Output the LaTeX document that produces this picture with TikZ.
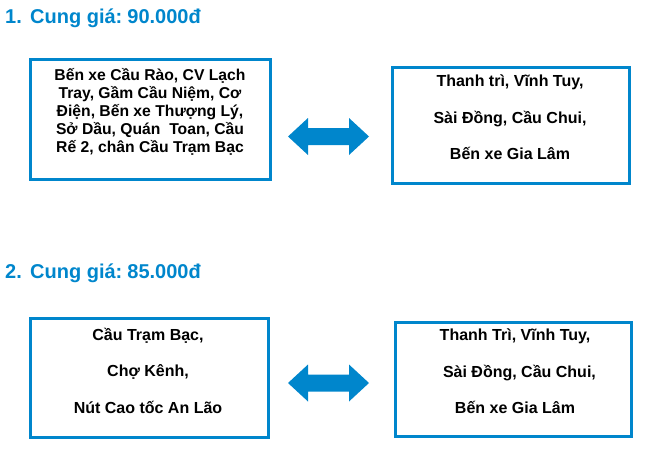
\documentclass[tikz,border=0pt]{standalone}
\usepackage{fontspec}
\setmainfont{Liberation Sans}
\definecolor{cblue}{RGB}{0,134,204}
\usetikzlibrary{calc}
\tikzset{
  box/.style={draw=cblue, line width=3pt, rectangle, inner sep=0pt},
  boxtext/.style={font=\bfseries\fontsize{15.7}{18}\selectfont, align=center, text=black, inner sep=0pt},
  wide/.style={font=\bfseries\fontsize{16}{36.5}\selectfont, align=center, text=black, inner sep=0pt},
  title/.style={font=\bfseries\fontsize{20}{24}\selectfont, text=cblue, anchor=base west, inner sep=0pt}
}
\newcommand{\blockarrow}[1]{%
  \fill[cblue] ($(#1)+(-40.5,0)$) -- ++(20,-18.5) -- ++(0,10) -- ++(41,0) -- ++(0,-10) -- ++(20,18.5)
    -- ++(-20,18.5) -- ++(0,-10) -- ++(-41,0) -- ++(0,10) -- cycle;}
\begin{document}
\begin{tikzpicture}[x=1pt,y=-1pt]
\useasboundingbox (0,0) rectangle (650,450);
% titles
\node[title] (n1) at (5,23) {1.};
\node[title] (t1) at (30,23) {Cung giá:\hspace{0.25em}90.000đ};
\node[title] (n2) at (5,278) {2.};
\node[title] (t2) at (30,278) {Cung giá:\hspace{0.25em}85.000đ};
% boxes
\node[box, minimum width=240pt, minimum height=120pt] (b1) at (150,119) {};
\node[box, minimum width=237pt, minimum height=116pt] (b2) at (510.5,125) {};
\node[box, minimum width=238pt, minimum height=119pt] (b3) at (149,377.5) {};
\node[box, minimum width=236pt, minimum height=114pt] (b4) at (513,379) {};
% texts
\node[boxtext] (x1) at (150,112) {Bến xe Cầu Rào, CV Lạch\\Tray, Gầm Cầu Niệm, Cơ\\Điện, Bến xe Thượng Lý,\\Sở Dầu, Quán\ \ Toan, Cầu\\Rế 2, chân Cầu Trạm Bạc};
\node[wide] (x2) at (510,117.5) {Thanh trì, Vĩnh Tuy,\\Sài Đồng, Cầu Chui,\\Bến xe Gia Lâm};
\node[wide] (x3) at (148,370.5) {Cầu Trạm Bạc,\\Chợ Kênh,\\Nút Cao tốc An Lão};
\node[wide] (x4) at (515,371.5) {Thanh Trì, Vĩnh Tuy,\\\ \ Sài Đồng, Cầu Chui,\\Bến xe Gia Lâm};
% arrows
\coordinate (a1) at (328.5,136.5);
\coordinate (a2) at (328.5,383);
\blockarrow{a1}
\blockarrow{a2}
\end{tikzpicture}
\end{document}
